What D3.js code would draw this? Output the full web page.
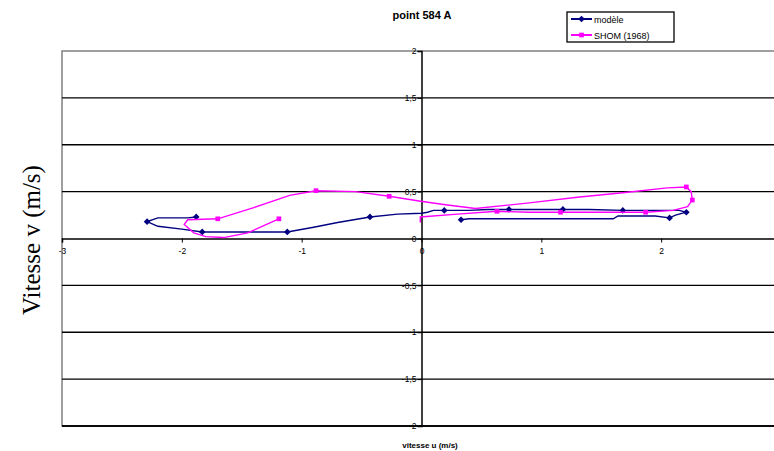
<!DOCTYPE html>
<html><head><meta charset="utf-8">
<script src="https://cdnjs.cloudflare.com/ajax/libs/d3/7.8.5/d3.min.js"></script>
<style>body{margin:0;background:#fff}svg{display:block}</style>
</head><body>
<svg id="c" width="774" height="451"></svg>
<script>
const title = "point 584 A";
const xLabel = "vitesse u (m/s)";
const yLabel = "Vitesse v (m/s)";
const xTicks = [-3, -2, -1, 0, 1, 2];
const yTicks = [2, 1.5, 1, 0.5, 0, -0.5, -1, -1.5, -2];
const seriesNames = ["modèle", "SHOM (1968)"];

// modèle: line points (u, v)
const modeleU = [0.33,0.40,1.00,1.60,1.64,1.95,2.07,2.12,2.18,2.21,2.15,1.95,1.68,1.40,1.18,0.95,0.73,0.55,0.40,0.19,0.10,0.05,0.00,-0.20,-0.43,-0.70,-0.90,-1.12,-1.50,-1.83,-2.00,-2.20,-2.29,-2.20,-1.95,-1.88];
const modeleV = [0.20,0.21,0.21,0.21,0.24,0.24,0.22,0.25,0.27,0.28,0.30,0.30,0.30,0.31,0.31,0.31,0.31,0.31,0.30,0.30,0.30,0.28,0.27,0.26,0.23,0.17,0.12,0.07,0.07,0.07,0.10,0.13,0.18,0.22,0.22,0.23];
// modèle: marker points
const modeleMU = [0.33,2.07,2.21,1.68,1.18,0.73,0.19,-0.43,-1.12,-1.83,-2.29,-1.88];
const modeleMV = [0.20,0.22,0.28,0.30,0.31,0.31,0.30,0.23,0.07,0.07,0.18,0.23];

// SHOM (1968): line points
const shomU = [-0.01,-0.01,0.30,0.63,0.90,1.16,1.50,1.87,2.10,2.22,2.26,2.25,2.21,2.05,1.70,1.30,0.90,0.45,0.20,-0.02,-0.27,-0.55,-0.88,-1.10,-1.40,-1.70,-1.95,-1.98,-1.90,-1.80,-1.65,-1.45,-1.19];
const shomV = [0.17,0.23,0.26,0.29,0.28,0.28,0.28,0.28,0.30,0.34,0.41,0.50,0.55,0.54,0.49,0.44,0.38,0.32,0.36,0.40,0.45,0.50,0.51,0.46,0.33,0.21,0.20,0.15,0.06,0.02,0.01,0.06,0.21];
// SHOM markers
const shomMU = [0.63,1.16,1.87,2.26,2.21,-0.27,-0.88,-1.70,-1.19];
const shomMV = [0.29,0.28,0.28,0.41,0.55,0.45,0.51,0.21,0.21];

const colors = ["#000080", "#FF00FF"];

const svg = d3.select("#c");
const L = 62, R = 781, T = 51, B = 426;
const x = d3.scaleLinear().domain([-3, 3]).range([L, R]);
const y = d3.scaleLinear().domain([-2, 2]).range([B, T]);

// plot area border
svg.append("rect").attr("x", L).attr("y", T).attr("width", R - L).attr("height", B - T)
  .attr("fill", "none").attr("stroke", "#808080").attr("stroke-width", 1.5);

// horizontal gridlines
svg.append("g").selectAll("line").data(yTicks.filter(d => d !== 2 && d !== 0)).join("line")
  .attr("x1", L).attr("x2", R).attr("y1", d => y(d)).attr("y2", d => y(d))
  .attr("stroke", "#000").attr("stroke-width", 1.3);
svg.append("line").attr("x1", L).attr("x2", R).attr("y1", B).attr("y2", B).attr("stroke", "#000").attr("stroke-width", 1.5);

// y axis at x=0
const yAxis = d3.axisLeft(y).tickValues(yTicks).tickSize(4)
  .tickFormat(d => String(d).replace(".", ","));
const gy = svg.append("g").attr("transform", `translate(${x(0)},0)`).call(yAxis);
gy.select(".domain").attr("stroke", "#000").attr("stroke-width", 1.5);
gy.selectAll(".tick line").attr("stroke", "#000");
gy.selectAll("text").attr("font-family", "Arial, 'Liberation Sans', sans-serif").attr("font-size", 8.5).attr("fill", "#000").attr("x", -5);

// x axis at y=0
const xAxis = d3.axisBottom(x).tickValues(xTicks).tickSize(4).tickFormat(d => String(d));
const gx = svg.append("g").attr("transform", `translate(0,${y(0)})`).call(xAxis);
gx.select(".domain").attr("stroke", "#000").attr("stroke-width", 1.5);
gx.selectAll(".tick line").attr("stroke", "#000");
gx.selectAll("text").attr("font-family", "Arial, 'Liberation Sans', sans-serif").attr("font-size", 8.5).attr("fill", "#000").attr("y", 9);

const line = d3.line().x(d => x(d[0])).y(d => y(d[1]));
const sets = [
  {pts: d3.zip(modeleU, modeleV), mk: d3.zip(modeleMU, modeleMV), shape: d3.symbolSquare, rot: 45, size: 22},
  {pts: d3.zip(shomU, shomV), mk: d3.zip(shomMU, shomMV), shape: d3.symbolSquare, rot: 0, size: 22}
];
sets.forEach((s, i) => {
  svg.append("path").attr("d", line(s.pts)).attr("fill", "none")
    .attr("stroke", colors[i]).attr("stroke-width", 1.4);
  svg.append("g").selectAll("path").data(s.mk).join("path")
    .attr("d", d3.symbol().type(s.shape).size(s.size))
    .attr("transform", d => `translate(${x(d[0])},${y(d[1])}) rotate(${s.rot})`)
    .attr("fill", colors[i]);
});

// title
svg.append("text").attr("x", 422).attr("y", 19).attr("text-anchor", "middle")
  .attr("font-family", "Arial, 'Liberation Sans', sans-serif").attr("font-weight", "bold")
  .attr("font-size", 11).text(title);

// x label
svg.append("text").attr("x", 430).attr("y", 448).attr("text-anchor", "middle")
  .attr("font-family", "Arial, 'Liberation Sans', sans-serif").attr("font-weight", "bold")
  .attr("font-size", 8).text(xLabel);

// y label
svg.append("text").attr("transform", "translate(40,240) rotate(-90)").attr("text-anchor", "middle")
  .attr("font-family", "'Liberation Serif', 'Times New Roman', serif")
  .attr("font-size", 25).text(yLabel);

// legend
const lg = svg.append("g");
lg.append("rect").attr("x", 567).attr("y", 12).attr("width", 107).attr("height", 30)
  .attr("fill", "#fff").attr("stroke", "#000").attr("stroke-width", 1.3);
seriesNames.forEach((n, i) => {
  const yy = 19 + i * 16;
  lg.append("line").attr("x1", 571).attr("x2", 592).attr("y1", yy).attr("y2", yy)
    .attr("stroke", colors[i]).attr("stroke-width", 2);
  lg.append("path").attr("d", d3.symbol().type(sets[i].shape).size(sets[i].size))
    .attr("transform", `translate(581.5,${yy}) rotate(${sets[i].rot})`).attr("fill", colors[i]);
  lg.append("text").attr("x", 594).attr("y", yy + 3.5)
    .attr("font-family", "Arial, 'Liberation Sans', sans-serif").attr("font-size", 9).text(n);
});
</script>
</body></html>
